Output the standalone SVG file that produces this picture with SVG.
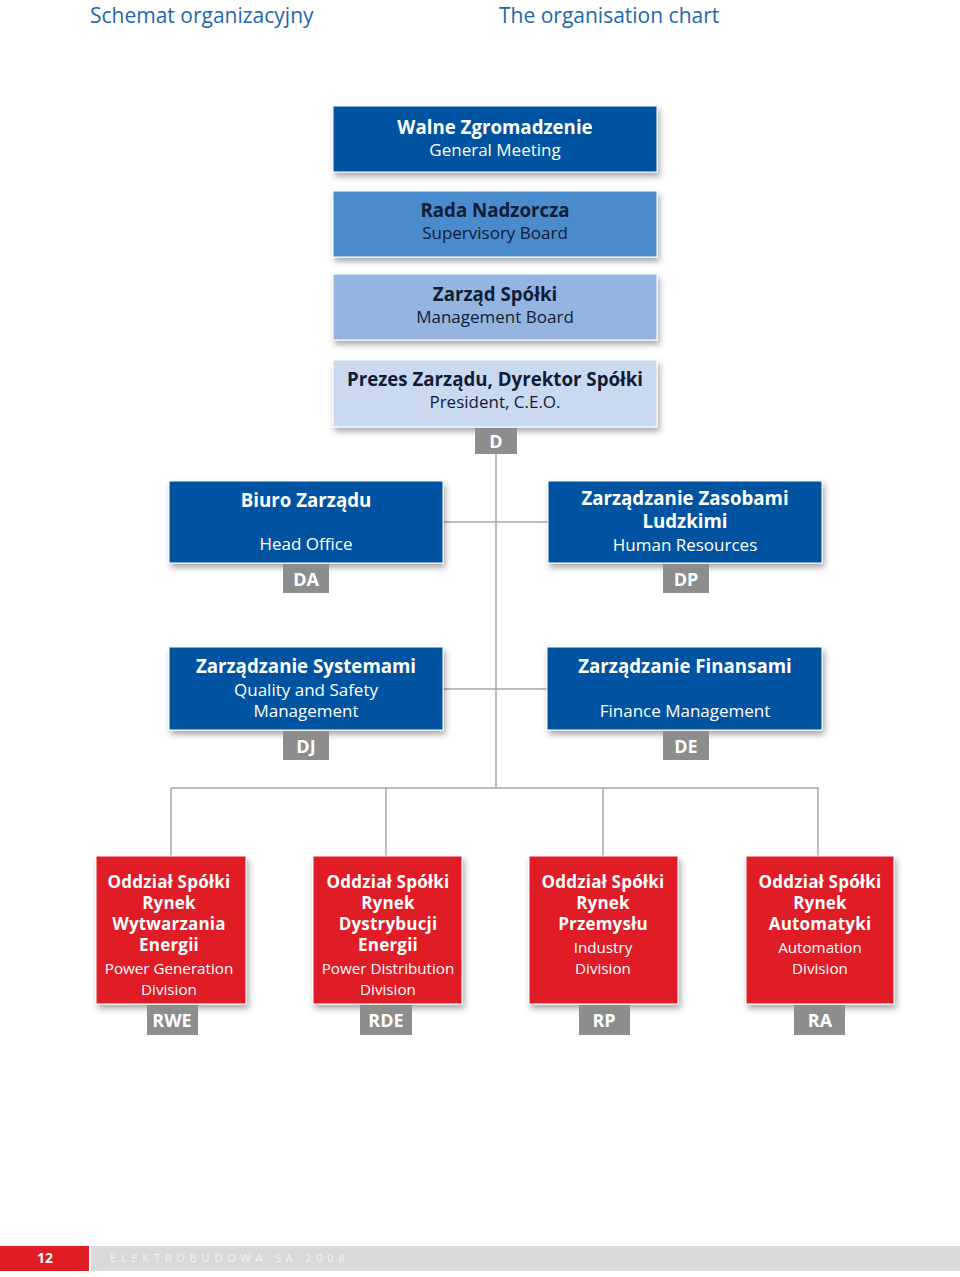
<svg xmlns="http://www.w3.org/2000/svg" width="960" height="1277" viewBox="0 0 960 1277">
<defs>
<filter id="sh" x="-10%" y="-10%" width="125%" height="140%">
<feDropShadow dx="2" dy="4" stdDeviation="3" flood-color="#000" flood-opacity="0.35"/>
</filter>
</defs>
<style>
text{font-family:"Open Sans","Noto Sans","DejaVu Sans",sans-serif;text-anchor:middle}
.t{font-weight:bold;font-size:18.7px}
.s{font-size:17px;font-weight:normal}
.w{fill:#ffffff}
.k{fill:#101c38}
.box{filter:url(#sh);stroke:#ffffff;stroke-width:1}
.dk{fill:#0252a1}
.b2{fill:#4a8bcb}
.b3{fill:#94b5e0}
.b4{fill:#cad9f0}
.red{fill:#e01d25}
.tab{fill:#8d8d8d}
.tt{font-weight:bold;font-size:18px;fill:#ffffff}
.rt{font-weight:bold;font-size:17px;fill:#ffffff;letter-spacing:0.2px}
.rs{font-size:15.2px;font-weight:normal;letter-spacing:0}
.ln{stroke:#a8a8a8;stroke-width:1.5;fill:none}
.hd{font-size:21px;fill:#2267ad;text-anchor:start}
</style>
<text class="hd" x="90" y="23">Schemat organizacyjny</text>
<text class="hd" x="499" y="23">The organisation chart</text>

<g id="connectors">
<path class="ln" d="M496 454 V788 M443 522 H548 M443 689 H548 M171 788 H819 M171 788 V856 M386 788 V856 M603 788 V856 M818 788 V856"/>
</g>

<g id="general-meeting">
<rect class="box dk" x="333" y="106" width="324" height="66"/>
<text class="t w" x="495" y="134">Walne Zgromadzenie<tspan class="s" x="495" y="156">General Meeting</tspan></text>
</g>
<g id="supervisory-board">
<rect class="box b2" x="333" y="191" width="324" height="66"/>
<text class="t k" x="495" y="217">Rada Nadzorcza<tspan class="s" x="495" y="239">Supervisory Board</tspan></text>
</g>
<g id="management-board">
<rect class="box b3" x="333" y="274" width="324" height="66"/>
<text class="t k" x="495" y="301">Zarząd Spółki<tspan class="s" x="495" y="323">Management Board</tspan></text>
</g>
<g id="president">
<rect class="box b4" x="333" y="360" width="324" height="67"/>
<text class="t k" x="495" y="386">Prezes Zarządu, Dyrektor Spółki<tspan class="s" x="495" y="408">President, C.E.O.</tspan></text>
<rect class="tab" x="475" y="428" width="42" height="26"/>
<text class="tt" x="496" y="448">D</text>
</g>

<g id="head-office">
<rect class="box dk" x="169" y="481" width="274" height="82"/>
<text class="t w" x="306" y="507">Biuro Zarządu<tspan class="s" x="306" y="550">Head Office</tspan></text>
<rect class="tab" x="283" y="564" width="46" height="29"/>
<text class="tt" x="306" y="586">DA</text>
</g>
<g id="human-resources">
<rect class="box dk" x="548" y="481" width="274" height="82"/>
<text class="t w" x="685" y="504.5">Zarządzanie Zasobami<tspan x="685" y="528">Ludzkimi</tspan><tspan class="s" x="685" y="551">Human Resources</tspan></text>
<rect class="tab" x="663" y="564" width="46" height="29"/>
<text class="tt" x="686" y="586">DP</text>
</g>
<g id="quality-safety">
<rect class="box dk" x="169" y="647" width="274" height="83"/>
<text class="t w" x="306" y="673">Zarządzanie Systemami<tspan class="s" x="306" y="696">Quality and Safety</tspan><tspan class="s" x="306" y="717">Management</tspan></text>
<rect class="tab" x="283" y="731" width="46" height="29"/>
<text class="tt" x="306" y="753">DJ</text>
</g>
<g id="finance">
<rect class="box dk" x="547" y="647" width="275" height="83"/>
<text class="t w" x="685" y="673">Zarządzanie Finansami<tspan class="s" x="685" y="717">Finance Management</tspan></text>
<rect class="tab" x="663" y="731" width="46" height="29"/>
<text class="tt" x="686" y="753">DE</text>
</g>

<g id="rwe">
<rect class="box red" x="96" y="856" width="150" height="148"/>
<text class="rt" x="169" y="888">Oddział Spółki<tspan x="169" y="909">Rynek</tspan><tspan x="169" y="930">Wytwarzania</tspan><tspan x="169" y="951">Energii</tspan><tspan class="rs" x="169" y="974">Power Generation</tspan><tspan class="rs" x="169" y="995">Division</tspan></text>
<rect class="tab" x="147" y="1005" width="51" height="30"/>
<text class="tt" x="172" y="1027">RWE</text>
</g>
<g id="rde">
<rect class="box red" x="313" y="856" width="149" height="148"/>
<text class="rt" x="388" y="888">Oddział Spółki<tspan x="388" y="909">Rynek</tspan><tspan x="388" y="930">Dystrybucji</tspan><tspan x="388" y="951">Energii</tspan><tspan class="rs" x="388" y="974">Power Distribution</tspan><tspan class="rs" x="388" y="995">Division</tspan></text>
<rect class="tab" x="360" y="1005" width="52" height="30"/>
<text class="tt" x="386" y="1027">RDE</text>
</g>
<g id="rp">
<rect class="box red" x="529" y="856" width="149" height="148"/>
<text class="rt" x="603" y="888">Oddział Spółki<tspan x="603" y="909">Rynek</tspan><tspan x="603" y="930">Przemysłu</tspan><tspan class="rs" x="603" y="953">Industry</tspan><tspan class="rs" x="603" y="974">Division</tspan></text>
<rect class="tab" x="579" y="1005" width="51" height="30"/>
<text class="tt" x="604" y="1027">RP</text>
</g>
<g id="ra">
<rect class="box red" x="746" y="856" width="148" height="148"/>
<text class="rt" x="820" y="888">Oddział Spółki<tspan x="820" y="909">Rynek</tspan><tspan x="820" y="930">Automatyki</tspan><tspan class="rs" x="820" y="953">Automation</tspan><tspan class="rs" x="820" y="974">Division</tspan></text>
<rect class="tab" x="794" y="1005" width="51" height="30"/>
<text class="tt" x="820" y="1027">RA</text>
</g>

<rect x="0" y="1246" width="89" height="25" fill="#e01d25"/>
<rect x="91" y="1246" width="869" height="25" fill="#d9d9d9"/>
<text x="45" y="1263" style="font-weight:bold;font-size:14px;fill:#ffffff">12</text>
<text x="110" y="1262" style="font-size:11px;fill:#f3f3f3;text-anchor:start;letter-spacing:4.8px">ELEKTROBUDOWA SA  2008</text>
</svg>
